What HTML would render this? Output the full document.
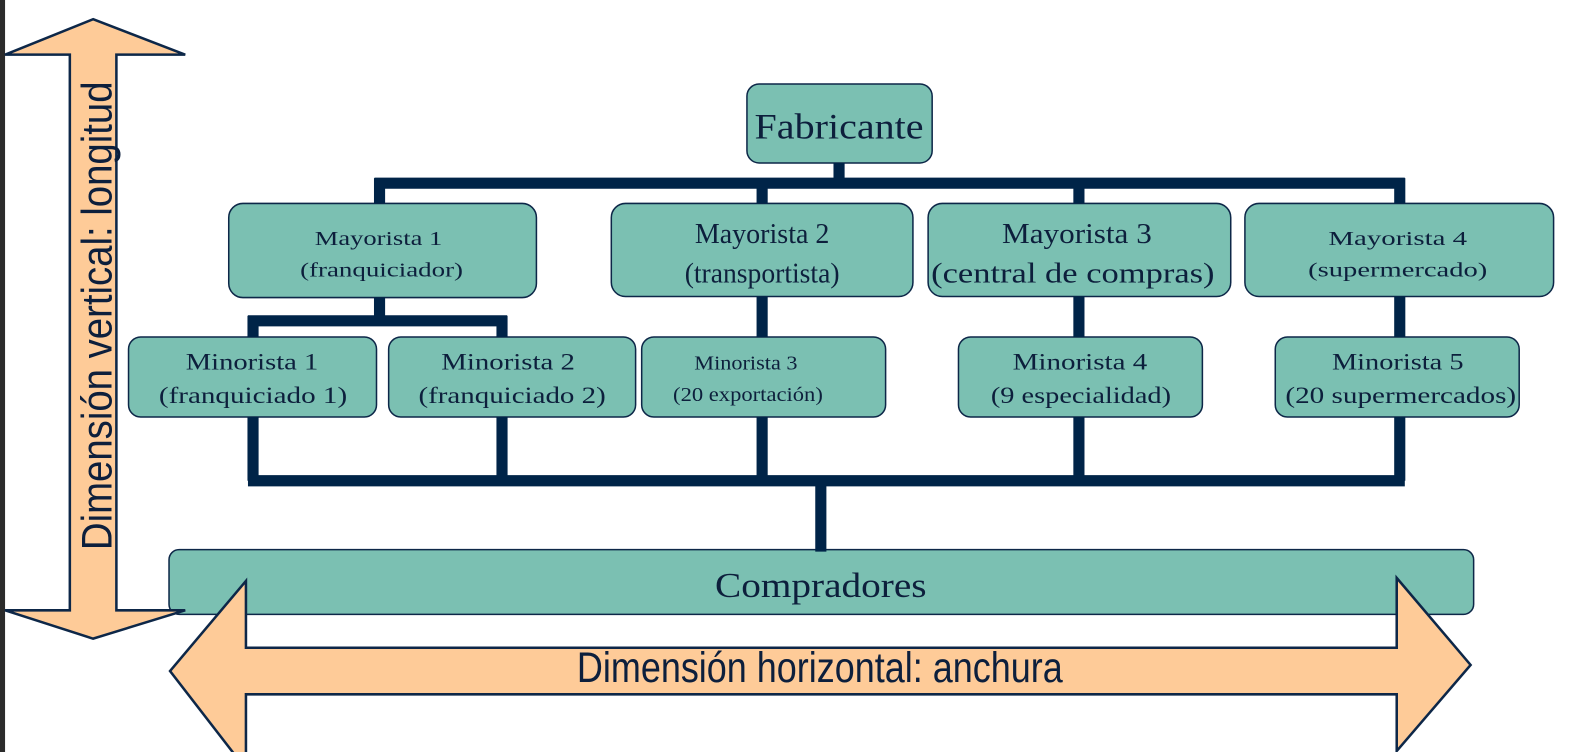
<!DOCTYPE html>
<html><head><meta charset="utf-8"><style>html,body{margin:0;padding:0;background:#fff}svg{display:block}</style></head>
<body>
<svg width="1587" height="752" viewBox="0 0 1568 743" preserveAspectRatio="none" xmlns="http://www.w3.org/2000/svg" font-family="Liberation Serif, serif" fill="#0d1f3c">
<rect x="0" y="0" width="5" height="752" fill="#2b2b2b"/>
<g fill="#7bc0b2" stroke="#0d2748" stroke-width="1.5">
<rect x="738" y="83" width="183" height="78" rx="12"/>
<rect x="226" y="201" width="304" height="93" rx="14"/>
<rect x="604" y="201" width="298" height="92" rx="14"/>
<rect x="917" y="201" width="299" height="92" rx="14"/>
<rect x="1230" y="201" width="305" height="92" rx="14"/>
<rect x="127" y="333" width="245" height="79" rx="12"/>
<rect x="384" y="333" width="244" height="79" rx="12"/>
<rect x="634" y="333" width="241" height="79" rx="12"/>
<rect x="947" y="333" width="241" height="79" rx="12"/>
<rect x="1260" y="333" width="241" height="79" rx="12"/>
<rect x="167" y="543" width="1289" height="64" rx="10"/>
</g>
<g stroke="#002448" stroke-width="11" fill="none">
<path d="M829 161V181M370 181H1388M375 176V201M753 176V201M1066 176V201M1383 176V201"/>
<path d="M375 294V317M245 317H501M250 312V333M496 312V333"/>
<path d="M753 293V333M1066 293V333M1383 293V333"/>
<path d="M250 412V475M496 412V475M753 412V475M1066 412V475M1383 412V475M245 475H1388M811 475V545"/>
</g>
<g fill="#0d1f3c" text-anchor="middle">
<text x="829" y="137" font-size="36" textLength="167" lengthAdjust="spacingAndGlyphs">Fabricante</text>
<text x="374" y="242" font-size="20" textLength="126" lengthAdjust="spacingAndGlyphs">Mayorista 1</text>
<text x="377" y="273" font-size="20" textLength="161" lengthAdjust="spacingAndGlyphs">(franquiciador)</text>
<text x="753" y="240" font-size="28" textLength="133" lengthAdjust="spacingAndGlyphs">Mayorista 2</text>
<text x="753" y="279" font-size="28" textLength="153" lengthAdjust="spacingAndGlyphs">(transportista)</text>
<text x="1064" y="240" font-size="28" textLength="148" lengthAdjust="spacingAndGlyphs">Mayorista 3</text>
<text x="1060" y="279" font-size="28" textLength="280" lengthAdjust="spacingAndGlyphs">(central de compras)</text>
<text x="1381" y="242" font-size="20" textLength="137" lengthAdjust="spacingAndGlyphs">Mayorista 4</text>
<text x="1381" y="273" font-size="20" textLength="177" lengthAdjust="spacingAndGlyphs">(supermercado)</text>
<text x="249" y="365" font-size="23" textLength="131" lengthAdjust="spacingAndGlyphs">Minorista 1</text>
<text x="250" y="398" font-size="23" textLength="186" lengthAdjust="spacingAndGlyphs">(franquiciado 1)</text>
<text x="502" y="365" font-size="23" textLength="132" lengthAdjust="spacingAndGlyphs">Minorista 2</text>
<text x="506" y="398" font-size="23" textLength="185" lengthAdjust="spacingAndGlyphs">(franquiciado 2)</text>
<text x="737" y="365" font-size="20" textLength="102" lengthAdjust="spacingAndGlyphs">Minorista 3</text>
<text x="739" y="396" font-size="20" textLength="148" lengthAdjust="spacingAndGlyphs">(20 exportación)</text>
<text x="1067" y="365" font-size="23" textLength="133" lengthAdjust="spacingAndGlyphs">Minorista 4</text>
<text x="1068" y="398" font-size="23" textLength="178" lengthAdjust="spacingAndGlyphs">(9 especialidad)</text>
<text x="1381" y="365" font-size="23" textLength="130" lengthAdjust="spacingAndGlyphs">Minorista 5</text>
<text x="1384" y="398" font-size="23" textLength="228" lengthAdjust="spacingAndGlyphs">(20 supermercados)</text>
<text x="811" y="590" font-size="34" textLength="209" lengthAdjust="spacingAndGlyphs">Compradores</text>
</g>
<g fill="#fecb98" stroke="#0d2748" stroke-width="2.5" stroke-linejoin="miter">
<polygon points="92,19 183,54 115,54 115,603 183,603 92,631 5,603 69,603 69,54 5,54"/>
<polygon points="168,663 243,574 243,640 1380,640 1380,571 1453,657 1380,742 1380,686 243,686 243,752 243,760"/>
</g>
<text x="810" y="674" font-family="Liberation Sans, sans-serif" font-size="42" text-anchor="middle" textLength="480" lengthAdjust="spacingAndGlyphs">Dimensión horizontal: anchura</text>
<text transform="translate(110,312) rotate(-90)" x="0" y="0" font-family="Liberation Sans, sans-serif" font-size="42" text-anchor="middle" textLength="463" lengthAdjust="spacingAndGlyphs">Dimensión vertical: longitud</text>
</svg>
</body></html>
